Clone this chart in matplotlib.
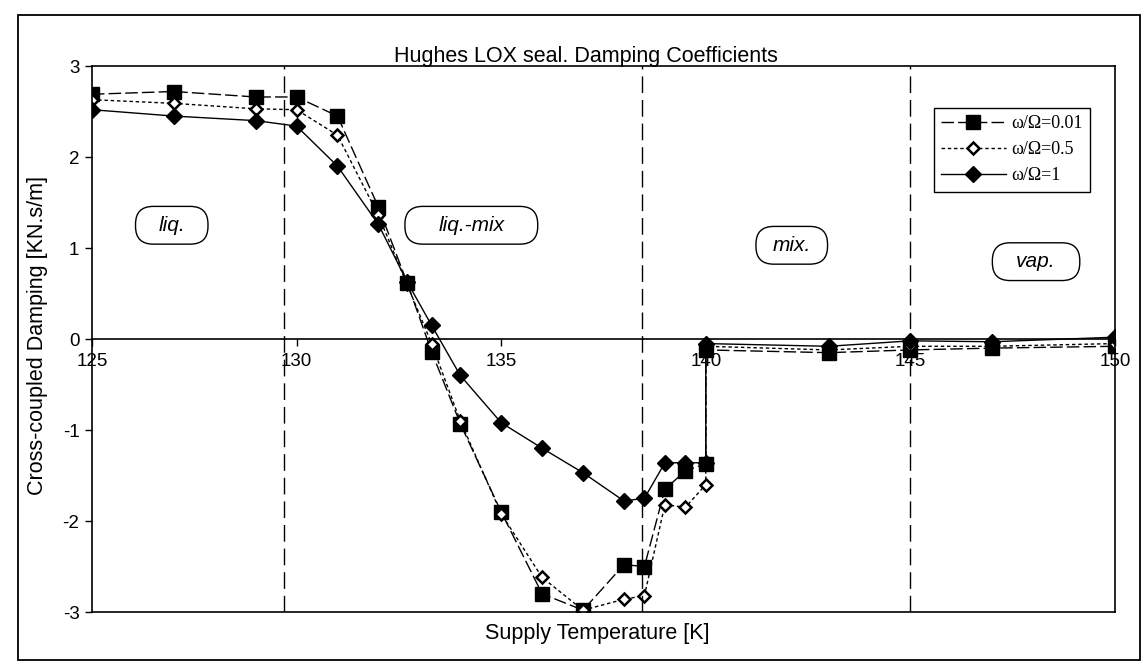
# Hughes LOX seal - cross-coupled damping vs supply temperature

import matplotlib.pyplot as plt
from matplotlib.patches import Rectangle, BoxStyle

plt.rcParams["font.family"] = ["Liberation Sans", "DejaVu Sans"]
plt.rcParams["axes.unicode_minus"] = False

# ---- data ----
temps = [125, 127, 129, 130, 131, 132, 132.7, 133.3, 134, 135, 136, 137,
         138, 138.5, 139, 139.5, 140, 140, 143, 145, 147, 150]
damp_w001 = [2.69, 2.72, 2.66, 2.66, 2.45, 1.45, 0.62, -0.14, -0.93, -1.90, -2.80, -2.98,
             -2.48, -2.50, -1.65, -1.45, -1.37, -0.12, -0.15, -0.12, -0.10, -0.08]
damp_w05 = [2.63, 2.59, 2.53, 2.52, 2.24, 1.36, 0.60, -0.05, -0.90, -1.92, -2.62, -2.98,
            -2.86, -2.82, -1.82, -1.85, -1.60, -0.08, -0.12, -0.08, -0.08, -0.05]
damp_w1 = [2.52, 2.45, 2.40, 2.34, 1.90, 1.26, 0.63, 0.15, -0.40, -0.92, -1.20, -1.47,
           -1.78, -1.75, -1.36, -1.36, -1.36, -0.05, -0.08, -0.02, -0.03, 0.02]
series_labels = ["ω/Ω=0.01", "ω/Ω=0.5", "ω/Ω=1"]

region_bounds = [129.7, 138.45, 145.0]
region_names = ["liq.", "liq.-mix", "mix.", "vap."]
x_ticks = [125, 130, 135, 140, 145, 150]
y_ticks = [-3, -2, -1, 0, 1, 2, 3]


def pill(xpad, ypad=0.45, rounding=0.85):
    # rounded box with its own side padding (fractions of the font size)
    base = BoxStyle.Round(pad=0, rounding_size=rounding)

    def style(x0, y0, w, h, m):
        return base(x0 - xpad * m, y0 - ypad * m, w + 2 * xpad * m, h + 2 * ypad * m, m)
    return style


# ---- figure ----
fig = plt.figure(figsize=(11.48, 6.69), dpi=100)
ax = fig.add_axes([0.0801, 0.0852, 0.8912, 0.8161])

ax.plot(temps, damp_w001, color="black", lw=1.0, dashes=(9, 3),
        marker="s", ms=10, label=series_labels[0])
ax.plot(temps, damp_w05, color="black", lw=1.0, dashes=(2.5, 2),
        marker="D", ms=6.5, mfc="white", mew=1.8, label=series_labels[1])
ax.plot(temps, damp_w1, color="black", lw=1.0,
        marker="D", ms=8.5, label=series_labels[2])

for b in region_bounds:
    ax.axvline(b, color="black", lw=1.0, dashes=(12, 5))

# region labels in rounded boxes
label_pos = [(126.95, 1.25), (134.27, 1.25), (142.1, 1.03), (148.07, 0.85)]
label_xpad = [1.1, 1.6, 0.8, 1.15]
for name, (lx, ly), xp in zip(region_names, label_pos, label_xpad):
    ax.text(lx, ly, name, style="italic", fontsize=15, ha="center", va="center",
            bbox=dict(boxstyle=pill(xp), fc="white", ec="black", lw=1.0))

ax.set_xlim(125, 150)
ax.set_ylim(-3, 3)
ax.set_xticks([])
ax.set_yticks(y_ticks)
ax.tick_params(axis="y", direction="out", length=5, width=1, labelsize=13.5, pad=4)
for sp in ax.spines.values():
    sp.set_linewidth(1.2)

# x axis drawn through zero
sec = ax.secondary_xaxis(0, transform=ax.transData)
sec.set_xticks(x_ticks)
sec.tick_params(direction="out", length=5, width=1, labelsize=13.5, pad=5)
sec.spines["bottom"].set_linewidth(1.2)

ax.set_xlabel("Supply Temperature [K]", fontsize=15.5)
ax.xaxis.set_label_coords(0.494, -0.02)
ax.set_ylabel("Cross-coupled Damping [KN.s/m]", fontsize=15.5)
ax.yaxis.set_label_coords(-0.043, 0.507)

fig.text(0.510, 0.908, "Hughes LOX seal. Damping Coefficients",
         fontsize=15.5, ha="center", va="baseline")

leg = ax.legend(loc="upper right", bbox_to_anchor=(0.9756, 0.923),
                prop={"family": "Liberation Serif", "size": 13},
                fancybox=False, edgecolor="black", framealpha=1,
                handlelength=3.6, handletextpad=0.3, labelspacing=0.5,
                borderpad=0.4, borderaxespad=0)
leg.get_frame().set_linewidth(1.0)

# outer frame round the whole chart
fig.add_artist(Rectangle((0.0157, 0.0135), 0.9774, 0.964, transform=fig.transFigure,
                         fill=False, ec="black", lw=1.3))

fig.savefig("out.png", dpi=100)
